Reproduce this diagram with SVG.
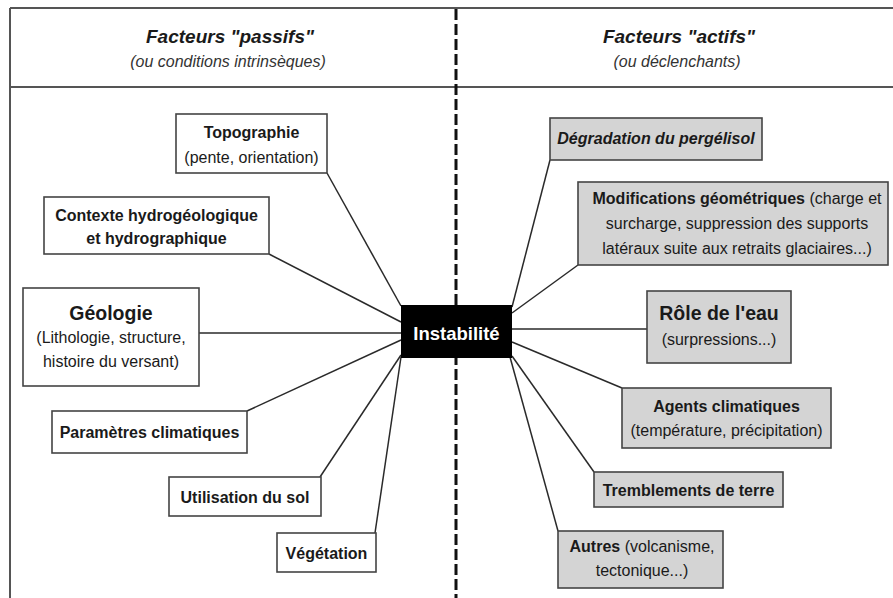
<svg xmlns="http://www.w3.org/2000/svg" width="893" height="598" viewBox="0 0 893 598">
<style>
  text { font-family: "Liberation Sans", Arial, sans-serif; fill: #1a1a1a; text-anchor: middle; }
  .frame { stroke: #555; stroke-width: 2; fill: none; }
  .divider { stroke: #111; stroke-width: 3; stroke-dasharray: 11 4; fill: none; }
  .title { font-size: 19px; font-weight: bold; font-style: italic; }
  .sub { font-size: 16px; font-style: italic; fill: #333; }
  .passive { fill: #fff; stroke: #444; stroke-width: 1.6; }
  .active { fill: #d4d4d4; stroke: #444; stroke-width: 1.6; }
  .b { font-size: 16px; font-weight: bold; }
  .r { font-size: 16px; }
  .big { font-size: 19.5px; font-weight: bold; }
  .bi { font-size: 16px; font-weight: bold; font-style: italic; }
  .conn line { stroke: #2a2a2a; stroke-width: 1.5; }
</style>
<rect width="893" height="598" fill="#fff"/>
<g id="frame">
  <line class="frame" x1="10" y1="8" x2="893" y2="8"/>
  <line class="frame" x1="10" y1="8" x2="10" y2="598"/>
  <line class="frame" x1="10" y1="87" x2="893" y2="87"/>
  <line class="divider" x1="456" y1="9" x2="456" y2="598"/>
</g>
<g id="header-left">
  <text class="title" x="230" y="43">Facteurs "passifs"</text>
  <text class="sub" x="228" y="67">(ou conditions intrinsèques)</text>
</g>
<g id="header-right">
  <text class="title" x="679" y="43">Facteurs "actifs"</text>
  <text class="sub" x="677" y="67">(ou déclenchants)</text>
</g>
<g id="connectors" class="conn">
  <line x1="327" y1="173" x2="401" y2="306"/>
  <line x1="269" y1="254" x2="401" y2="322"/>
  <line x1="199" y1="333" x2="401" y2="333"/>
  <line x1="247" y1="411" x2="401" y2="340"/>
  <line x1="320" y1="477" x2="401" y2="355"/>
  <line x1="375" y1="533" x2="401" y2="357"/>
  <line x1="550" y1="160" x2="512" y2="307"/>
  <line x1="578" y1="265" x2="512" y2="313"/>
  <line x1="512" y1="329" x2="647" y2="329"/>
  <line x1="512" y1="342" x2="622" y2="388"/>
  <line x1="512" y1="356" x2="594" y2="472"/>
  <line x1="510" y1="357" x2="558" y2="531"/>
</g>
<g id="topographie">
  <rect class="passive" x="176" y="114" width="151" height="59"/>
  <text class="b" x="251.5" y="138">Topographie</text>
  <text class="r" x="251.5" y="163">(pente, orientation)</text>
</g>
<g id="contexte">
  <rect class="passive" x="44" y="197" width="225" height="57"/>
  <text class="b" x="156.5" y="221">Contexte hydrogéologique</text>
  <text class="b" x="156.5" y="244">et hydrographique</text>
</g>
<g id="geologie">
  <rect class="passive" x="23" y="288" width="176" height="98"/>
  <text class="big" x="111" y="320">Géologie</text>
  <text class="r" x="111" y="343">(Lithologie, structure,</text>
  <text class="r" x="111" y="367">histoire du versant)</text>
</g>
<g id="parametres">
  <rect class="passive" x="52" y="411" width="195" height="42"/>
  <text class="b" x="149.5" y="438">Paramètres climatiques</text>
</g>
<g id="utilisation">
  <rect class="passive" x="169" y="477" width="152" height="39"/>
  <text class="b" x="245" y="503">Utilisation du sol</text>
</g>
<g id="vegetation">
  <rect class="passive" x="277" y="533" width="99" height="39"/>
  <text class="b" x="326.5" y="559">Végétation</text>
</g>
<g id="instabilite">
  <rect x="401" y="305" width="111" height="53" fill="#000"/>
  <text x="456.5" y="340" style="font-size:18.5px;font-weight:bold;fill:#fff">Instabilité</text>
</g>
<g id="degradation">
  <rect class="active" x="550" y="118" width="212" height="42"/>
  <text class="bi" x="656" y="144">Dégradation du pergélisol</text>
</g>
<g id="modifications">
  <rect class="active" x="578" y="182" width="310" height="83"/>
  <text class="r" x="737" y="204"><tspan font-weight="bold">Modifications géométriques</tspan> (charge et</text>
  <text class="r" x="737" y="229">surcharge, suppression des supports</text>
  <text class="r" x="737" y="254">latéraux suite aux retraits glaciaires...)</text>
</g>
<g id="role-eau">
  <rect class="active" x="647" y="291" width="144" height="72"/>
  <text class="big" x="719" y="320">Rôle de l'eau</text>
  <text class="r" x="719" y="345">(surpressions...)</text>
</g>
<g id="agents">
  <rect class="active" x="622" y="388" width="209" height="60"/>
  <text class="b" x="726.5" y="412">Agents climatiques</text>
  <text class="r" x="726.5" y="436">(température, précipitation)</text>
</g>
<g id="tremblements">
  <rect class="active" x="594" y="472" width="189" height="35"/>
  <text class="b" x="688.5" y="496">Tremblements de terre</text>
</g>
<g id="autres">
  <rect class="active" x="558" y="531" width="165" height="57"/>
  <text class="r" x="642" y="552"><tspan font-weight="bold">Autres</tspan> (volcanisme,</text>
  <text class="r" x="642" y="576">tectonique...)</text>
</g>
</svg>
